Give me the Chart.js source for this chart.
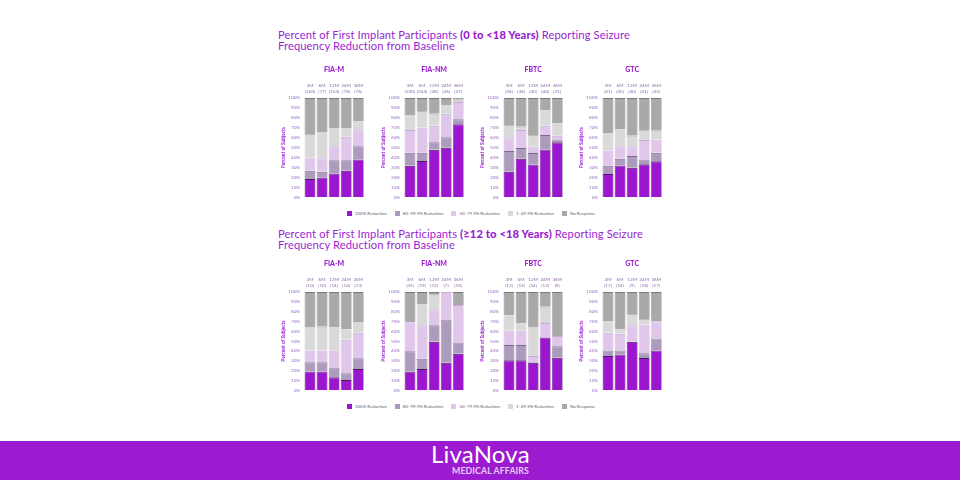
<!DOCTYPE html>
<html>
<head>
<meta charset="utf-8">
<script src="https://cdn.jsdelivr.net/npm/chart.js@4.4.1/dist/chart.umd.min.js"></script>
<style>
  html,body{margin:0;padding:0;background:#fff;}
  #wrap{position:relative;width:960px;height:480px;overflow:hidden;background:#fff;font-family:"Lato","Open Sans",sans-serif;}
  .title{position:absolute;left:278px;color:#9b1fd0;font-size:11.2px;line-height:11px;font-family:"Lato",sans-serif;letter-spacing:0.1px;white-space:nowrap;}
  .title b{font-weight:900;}
  .panel{position:absolute;}
  .legend{position:absolute;left:347px;font-size:4.4px;color:#666;white-space:nowrap;font-family:"Lato",sans-serif;}
  .legend span.item{display:inline-block;margin-right:8px;}
  .legend span.sw{display:inline-block;width:5px;height:5px;margin-right:3px;vertical-align:-1px;}
  #footer{position:absolute;left:0;top:441px;width:960px;height:39px;background:#9c1ad0;}
  #logo{position:absolute;left:431px;top:439px;color:#fff;font-family:"Lato",sans-serif;font-weight:400;font-size:24px;letter-spacing:0.2px;}
  #sub{position:absolute;left:452px;top:465px;color:#e6cbf6;font-family:"Lato",sans-serif;font-weight:700;font-size:8.8px;letter-spacing:0.1px;}
</style>
</head>
<body>
<div id="wrap">
  <div class="title" style="top:29px;">Percent of First Implant Participants <b>(0 to &lt;18 Years)</b> Reporting Seizure<br>Frequency Reduction from Baseline</div>
  <div class="title" style="top:228px;">Percent of First Implant Participants <b>(≥12 to &lt;18 Years)</b> Reporting Seizure<br>Frequency Reduction from Baseline</div>
  <div class="legend" id="legTop" style="top:211px;"></div>
  <div class="legend" id="legBot" style="top:404px;"></div>
  <div id="footer"></div>
  <div id="logo">LivaNova</div>
  <div id="sub">MEDICAL AFFAIRS</div>
</div>
<script>
// ---- series ----
const seriesNames = ['100% Reduction','80–99.9% Reduction','50–79.9% Reduction','1–49.9% Reduction','No Response'];
const seriesColors = ['#9b16cf','#ad9bbe','#dfc6ea','#d9d9d9','#a9a9a9'];
const seriesBorders = ['#4a1a5e','#7d6a8c','#c6a9d6','#bdbdbd','#7a7a7a'];
const panelTitles = ['FIA-M','FIA-NM','FBTC','GTC'];
const timepoints = ['3M','6M','12M','24M','36M'];

// ---- top row (0 to <18 years): n per timepoint ----
const topN_FIAM  = ['(103)','(77)','(103)','(78)','(76)'];
const topN_FIANM = ['(220)','(244)','(28)','(26)','(27)'];
const topN_FBTC  = ['(36)','(36)','(40)','(40)','(21)'];
const topN_GTC   = ['(41)','(45)','(40)','(41)','(45)'];

// values: [100%, 80-99.9, 50-79.9, 1-49.9, No Response] per timepoint
const top_FIAM_100 = [18.5, 20.0, 24.0, 26.7, 38.0];
const top_FIAM_80  = [8.2, 5.6, 13.3, 10.6, 13.5];
const top_FIAM_50  = [13.3, 13.6, 14.2, 23.7, 17.1];
const top_FIAM_1   = [23.7, 26.3, 18.1, 8.6, 7.6];
const top_FIAM_NR  = [36.3, 34.5, 30.4, 30.4, 23.8];

const top_FIANM_100 = [31.7, 36.6, 47.9, 49.8, 73.6];
const top_FIANM_80  = [13.2, 8.3, 7.5, 10.6, 4.9];
const top_FIANM_50  = [22.8, 25.4, 16.6, 23.8, 17.5];
const top_FIANM_1   = [14.8, 16.5, 12.2, 8.5, 2.3];
const top_FIANM_NR  = [17.5, 13.2, 15.8, 7.3, 1.7];

const top_FBTC_100 = [25.7, 38.9, 33.0, 48.2, 55.4];
const top_FBTC_80  = [20.8, 10.6, 11.6, 14.5, 2.7];
const top_FBTC_50  = [12.9, 18.2, 6.6, 9.3, 3.9];
const top_FBTC_1   = [13.5, 3.3, 11.5, 15.5, 12.3];
const top_FBTC_NR  = [27.1, 29.0, 37.3, 12.5, 25.7];

const top_GTC_100 = [23.4, 32.0, 29.7, 33.3, 36.3];
const top_GTC_80  = [8.3, 6.9, 11.9, 4.7, 8.6];
const top_GTC_50  = [15.5, 12.6, 9.9, 19.8, 13.2];
const top_GTC_1   = [17.2, 16.8, 10.5, 9.9, 8.9];
const top_GTC_NR  = [35.6, 31.7, 38.0, 32.3, 33.0];

// ---- bottom row (>=12 to <18 years) ----
const botN_FIAM  = ['(10)','(10)','(14)','(14)','(13)'];
const botN_FIANM = ['(35)','(19)','(12)','(7)','(16)'];
const botN_FBTC  = ['(13)','(13)','(14)','(12)','(9)'];
const botN_GTC   = ['(17)','(14)','(9)','(18)','(17)'];

const bot_FIAM_100 = [19.2, 19.2, 13.2, 10.3, 21.5];
const bot_FIAM_80  = [9.3, 9.3, 10.0, 6.9, 11.0];
const bot_FIAM_50  = [11.9, 11.9, 17.2, 34.1, 26.1];
const bot_FIAM_1   = [23.8, 24.2, 23.5, 10.6, 10.6];
const bot_FIAM_NR  = [35.8, 35.4, 36.1, 38.1, 30.8];

const bot_FIANM_100 = [19.2, 21.5, 49.3, 28.1, 37.1];
const bot_FIANM_80  = [20.5, 10.6, 16.9, 43.8, 11.6];
const bot_FIANM_50  = [29.5, 34.1, 16.3, 28.1, 38.1];
const bot_FIANM_1   = [0, 21.2, 15.5, 0, 0];
const bot_FIANM_NR  = [30.8, 12.6, 2.0, 0, 13.2];

const bot_FBTC_100 = [30.5, 30.5, 28.1, 53.6, 33.1];
const bot_FBTC_80  = [15.5, 15.5, 0.7, 0, 11.6];
const bot_FBTC_50  = [14.9, 14.9, 6.0, 14.9, 10.6];
const bot_FBTC_1   = [15.3, 7.0, 29.4, 16.6, 0];
const bot_FBTC_NR  = [23.8, 32.1, 35.8, 14.9, 44.7];

const bot_GTC_100 = [34.8, 36.4, 49.3, 32.8, 40.4];
const bot_GTC_80  = [5.6, 4.0, 0, 4.9, 12.2];
const bot_GTC_50  = [18.2, 17.2, 16.9, 29.2, 17.6];
const bot_GTC_1   = [11.6, 4.3, 11.3, 5.6, 0];
const bot_GTC_NR  = [29.8, 38.1, 22.5, 27.5, 29.8];

const yTicks = [0,10,20,30,40,50,60,70,80,90,100];

// ---- legend ----
function buildLegend(id){
  const el = document.getElementById(id);
  el.innerHTML = seriesNames.map((n,i)=>'<span class="item"><span class="sw" style="background:'+seriesColors[i]+'"></span>'+n+'</span>').join('');
}
buildLegend('legTop'); buildLegend('legBot');

// ---- panels ----
const PURPLE = '#9b1fd0';
function makePanel(left, plotTop, plotBottom, title, nLabels, series){
  const yW = 29, plotW = 63;
  const top = plotTop - 36;
  const h = (plotBottom - plotTop) + 36 + 5;
  const w = yW + plotW;
  const c = document.createElement('canvas');
  c.className = 'panel';
  c.style.left = (left - yW) + 'px';
  c.style.top = top + 'px';
  c.style.width = w + 'px';
  c.style.height = h + 'px';
  c.width = w; c.height = h;
  document.getElementById('wrap').appendChild(c);
  const labels = timepoints.map((t,i)=>[t, nLabels[i]]);
  new Chart(c, {
    type: 'bar',
    data: {
      labels: labels,
      datasets: series.map((d,i)=>({
        label: seriesNames[i],
        data: d,
        backgroundColor: seriesColors[i],
        borderColor: seriesBorders[i],
        borderWidth: {top:1, left:0.6, right:0.6, bottom:0},
        borderSkipped: false,
        barPercentage: 0.9,
        categoryPercentage: 1.0
      }))
    },
    options: {
      responsive: false,
      animation: false,
      devicePixelRatio: 1,
      layout: {padding: {left:0, right:0, top:0, bottom:5}},
      plugins: {
        legend: {display:false},
        tooltip: {enabled:false},
        title: {display:false}
      },
      scales: {
        x: {
          stacked: true, position: 'top',
          grid: {display:false, drawTicks:false}, border:{display:false},
          ticks: {color:'#8a6aa8', font:{family:'Lato', size:4.6}, padding:4, maxRotation:0, autoSkip:false},
          title: {display:true, text:title, color:PURPLE, font:{family:'Lato', size:7, weight:'900'}, padding:{top:4,bottom:4}},
          afterFit: s => { s.height = 36; }
        },
        y: {
          stacked: true, min: 0, max: 100,
          afterBuildTicks: s => { s.ticks = yTicks.map(v=>({value:v})); },
          grid: {display:false, drawTicks:false}, border:{display:false},
          ticks: {color:'#9a6cc8', font:{family:'Lato', size:4.6}, padding:4, callback: v => v + '%'},
          title: {display:true, text:'Percent of Subjects', color:PURPLE, font:{family:'Lato', size:4.8, weight:'bold'}, padding:{top:6,bottom:0}},
          afterFit: s => { s.width = yW; }
        }
      }
    }
  });
}

const lefts = [304, 404, 503, 602];
makePanel(lefts[0], 98, 199, panelTitles[0], topN_FIAM,  [top_FIAM_100, top_FIAM_80, top_FIAM_50, top_FIAM_1, top_FIAM_NR]);
makePanel(lefts[1], 98, 199, panelTitles[1], topN_FIANM, [top_FIANM_100, top_FIANM_80, top_FIANM_50, top_FIANM_1, top_FIANM_NR]);
makePanel(lefts[2], 98, 199, panelTitles[2], topN_FBTC,  [top_FBTC_100, top_FBTC_80, top_FBTC_50, top_FBTC_1, top_FBTC_NR]);
makePanel(lefts[3], 98, 199, panelTitles[3], topN_GTC,   [top_GTC_100, top_GTC_80, top_GTC_50, top_GTC_1, top_GTC_NR]);

makePanel(lefts[0], 292, 392, panelTitles[0], botN_FIAM,  [bot_FIAM_100, bot_FIAM_80, bot_FIAM_50, bot_FIAM_1, bot_FIAM_NR]);
makePanel(lefts[1], 292, 392, panelTitles[1], botN_FIANM, [bot_FIANM_100, bot_FIANM_80, bot_FIANM_50, bot_FIANM_1, bot_FIANM_NR]);
makePanel(lefts[2], 292, 392, panelTitles[2], botN_FBTC,  [bot_FBTC_100, bot_FBTC_80, bot_FBTC_50, bot_FBTC_1, bot_FBTC_NR]);
makePanel(lefts[3], 292, 392, panelTitles[3], botN_GTC,   [bot_GTC_100, bot_GTC_80, bot_GTC_50, bot_GTC_1, bot_GTC_NR]);
</script>
</body>
</html>
